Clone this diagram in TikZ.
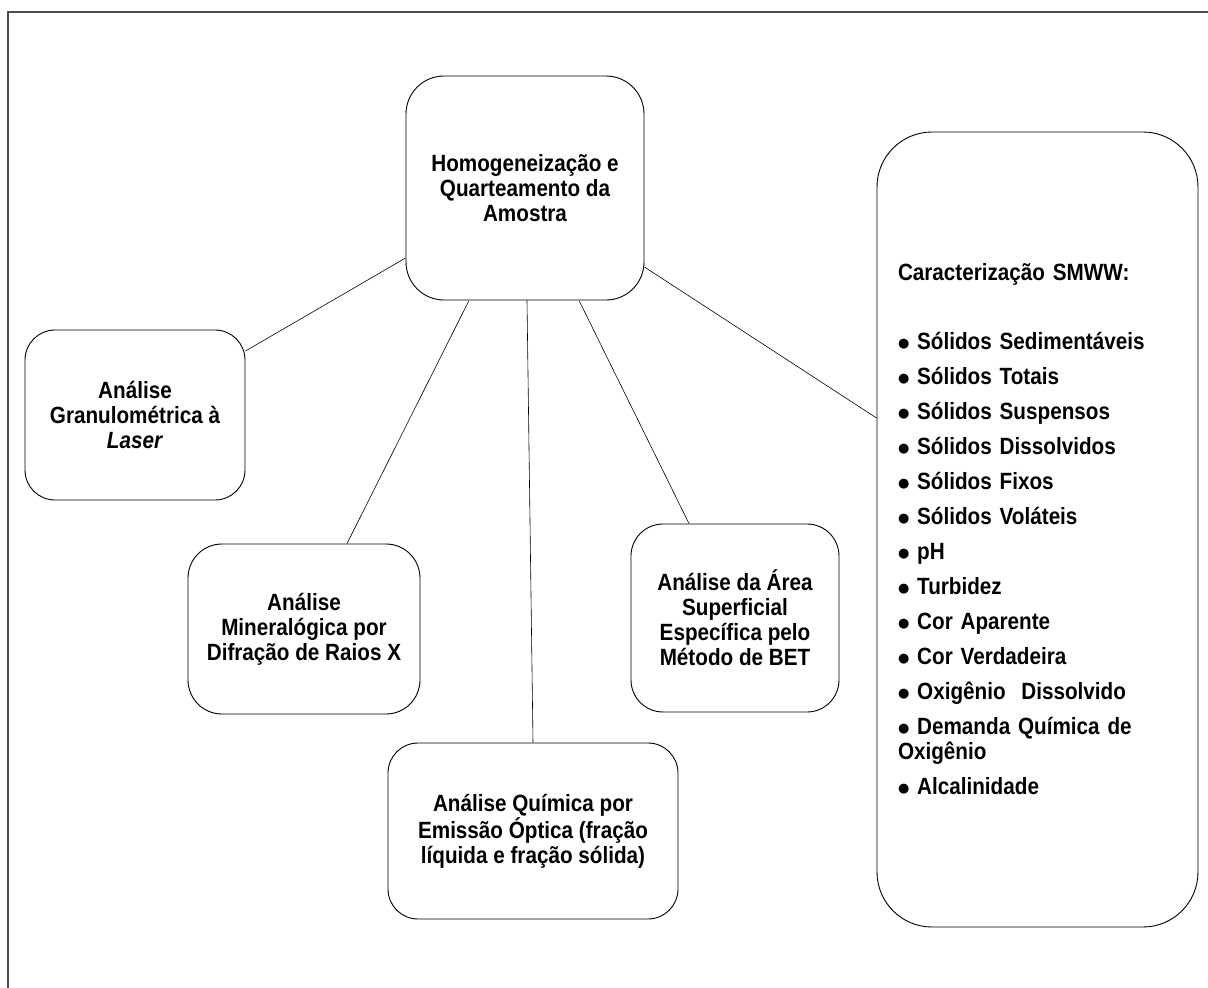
\documentclass[tikz,border=0pt]{standalone}
\usepackage{fontspec}
\setmainfont[FakeStretch=0.88]{Liberation Sans}
\newfontfamily\bulfont{DejaVu Sans}
\newcommand\bul{\raisebox{2.8pt}{\bulfont\fontsize{13}{13}\selectfont ●}}
\tikzset{
  box/.style={draw=black, line width=0.9pt, align=center, inner sep=0pt,
    font=\fontsize{23.5}{25}\selectfont\bfseries},
  link/.style={draw=black, line width=0.6pt},
  frameline/.style={draw=black!70, line width=1.3pt}
}
\begin{document}
\begin{tikzpicture}[x=1pt,y=-1pt]
\useasboundingbox (0,0) rectangle (1208,988);
\draw[frameline] (1208,12) -- (8,12) -- (8,988);

\node[box, rounded corners=38pt, minimum width=238pt, minimum height=224pt] (c) at (525,188)
  {Homogeneização e\\Quarteamento da\\Amostra};
\node[box, rounded corners=30pt, minimum width=220pt, minimum height=170pt] (gra) at (135,415)
  {Análise\\Granulométrica à\\\textit{Laser}};
\node[box, rounded corners=34pt, minimum width=232pt, minimum height=170pt] (min) at (304,629)
  {Análise\\Mineralógica por\\Difração de Raios X};
\node[box, rounded corners=32pt, minimum width=208pt, minimum height=188pt] (area) at (735,618)
  {Análise da Área\\Superficial\\Específica pelo\\Método de BET};
\node[box, rounded corners=30pt, minimum width=290pt, minimum height=176pt] (qui) at (533,831)
  {Análise Química por\\Emissão Óptica (fração\\líquida e fração sólida)};
\node[box, align=left, rounded corners=55pt, text width=279pt, inner xsep=21pt, inner ysep=0pt,
  minimum height=795pt] (smww) at (1037.5,529.5)
  {Caracterização SMWW:\\[44pt]
   \bul{} Sólidos Sedimentáveis\\[10pt]
   \bul{} Sólidos Totais\\[10pt]
   \bul{} Sólidos Suspensos\\[10pt]
   \bul{} Sólidos Dissolvidos\\[10pt]
   \bul{} Sólidos Fixos\\[10pt]
   \bul{} Sólidos Voláteis\\[10pt]
   \bul{} pH\\[10pt]
   \bul{} Turbidez\\[10pt]
   \bul{} Cor Aparente\\[10pt]
   \bul{} Cor Verdadeira\\[10pt]
   \bul{} Oxigênio\ \ Dissolvido\\[10pt]
   \bul{} Demanda Química de\\
   Oxigênio\\[10pt]
   \bul{} Alcalinidade};

\draw[link] ([yshift=-70pt]c.west) -- ([yshift=64pt]gra.east);
\draw[link] ([xshift=-56pt]c.south) -- ([xshift=43pt]min.north);
\draw[link] ([xshift=2pt]c.south) -- (qui.north);
\draw[link] ([xshift=54pt]c.south) -- ([xshift=-46pt]area.north);
\draw[link] ([yshift=-79pt]c.east) -- ([yshift=111.5pt]smww.west);
\end{tikzpicture}
\end{document}
